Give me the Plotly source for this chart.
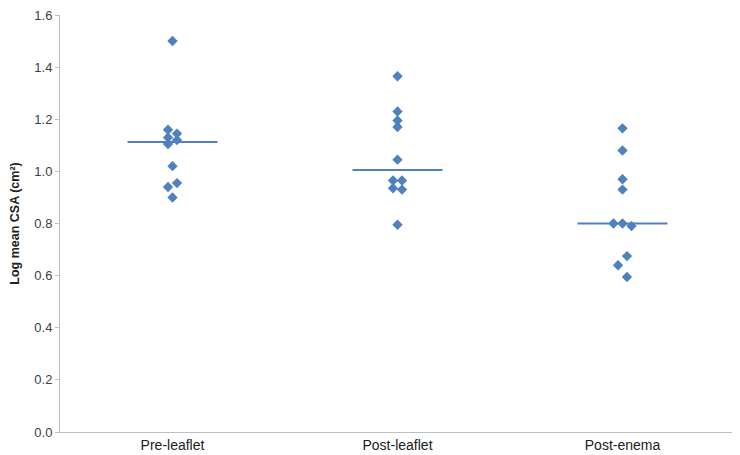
import numpy as np
import plotly.graph_objs as go

# Categories and values
categories = ["Pre-leaflet", "Post-leaflet", "Post-enema"]

pre_leaflet = [1.50, 1.16, 1.145, 1.13, 1.12, 1.105, 1.02, 0.955, 0.94, 0.90]
post_leaflet = [1.365, 1.23, 1.195, 1.17, 1.045, 0.965, 0.965, 0.935, 0.93, 0.795]
post_enema = [1.165, 1.08, 0.97, 0.93, 0.80, 0.80, 0.79, 0.675, 0.64, 0.595]

# horizontal spread of the dots (category units)
pre_spread = [0, -0.02, 0.02, -0.02, 0.02, -0.02, 0, 0.02, -0.02, 0]
post_leaflet_spread = [0, 0, 0, 0, 0, -0.02, 0.02, -0.02, 0.02, 0]
post_enema_spread = [0, 0, 0, 0, -0.04, 0, 0.04, 0.02, -0.02, 0.02]

y_ticks = [0.0, 0.2, 0.4, 0.6, 0.8, 1.0, 1.2, 1.4, 1.6]

blue = "#4F81BD"
fig = go.Figure()

groups = [(pre_leaflet, pre_spread), (post_leaflet, post_leaflet_spread),
          (post_enema, post_enema_spread)]

for i, (vals, spread) in enumerate(groups):
    fig.add_trace(go.Scatter(x=[i + s for s in spread], y=vals, mode='markers',
                             marker=dict(symbol='diamond', size=8, color=blue),
                             showlegend=False))
    med = float(np.median(vals))
    fig.add_trace(go.Scatter(x=[i - 0.2, i + 0.2], y=[med, med], mode='lines',
                             line=dict(color=blue, width=2), showlegend=False))

# page body has an 8px margin, so size the figure to fit the window
fig.update_layout(
    width=732, height=447,
    margin=dict(l=52, r=5, t=7, b=23),
    plot_bgcolor='white', paper_bgcolor='white',
    font=dict(family="Liberation Sans, Arial, sans-serif", color="#404040"),
)
fig.update_xaxes(range=[-0.5, 2.5], tickmode='array', tickvals=[0, 1, 2],
                 ticktext=categories, showgrid=False, zeroline=False,
                 showline=True, linecolor="#BFBFBF", linewidth=1,
                 ticks='', automargin=False,
                 tickfont=dict(size=14, color="#202020"))
fig.update_yaxes(range=[0, 1.6], tickvals=y_ticks, tickformat=".1f",
                 showgrid=False, zeroline=False, showline=True,
                 linecolor="#BFBFBF", linewidth=1, ticks='outside',
                 ticklen=4, tickcolor="#BFBFBF", automargin=False,
                 ticklabeloverflow='allow',
                 tickfont=dict(size=13, color="#404040"),
                 title=dict(text="<b>Log mean CSA (cm²)</b>", standoff=12,
                            font=dict(size=12.5, color="#202020")))

fig.write_html("out.html")
